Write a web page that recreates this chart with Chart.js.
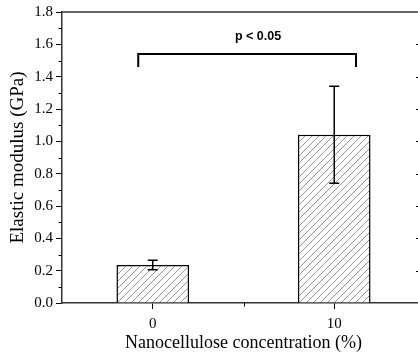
<!DOCTYPE html>
<html>
<head>
<meta charset="utf-8">
<script src="https://cdn.jsdelivr.net/npm/chart.js@4.4.0/dist/chart.umd.min.js"></script>
<style>
  html, body { margin: 0; padding: 0; background: #fff; overflow: hidden; }
  #wrap { width: 426px; height: 354px; }
</style>
</head>
<body>
<div id="wrap"><canvas id="chart" width="426" height="354"></canvas></div>
<script>
// data
var categories = ['0', '10'];
var modulus = [0.235, 1.04];
var modulusErr = [0.03, 0.30];
var yTicks = [0, 0.2, 0.4, 0.6, 0.8, 1.0, 1.2, 1.4, 1.6, 1.8];
var yMinorTicks = [0.1, 0.3, 0.5, 0.7, 0.9, 1.1, 1.3, 1.5, 1.7];

// significance bracket (category index / GPa)
var bracketFrom = -0.08;
var bracketTo = 1.12;
var bracketTop = 1.54;
var bracketFoot = 1.46;
var sigLabel = 'p < 0.05';
var sigLabelAt = [0.58, 1.65];

function hatchPattern() {
  var s = 7;
  var c = document.createElement('canvas');
  c.width = s; c.height = s;
  var g = c.getContext('2d');
  g.fillStyle = '#fff';
  g.fillRect(0, 0, s, s);
  g.strokeStyle = '#8a8a8a';
  g.lineWidth = 0.9;
  g.beginPath();
  g.moveTo(0, s); g.lineTo(s, 0);
  g.moveTo(-1, 1); g.lineTo(1, -1);
  g.moveTo(s - 1, s + 1); g.lineTo(s + 1, s - 1);
  g.stroke();
  return g.createPattern(c, 'repeat');
}

// error bars, bracket, extra ticks and the frame
var extras = {
  id: 'extras',
  afterDatasetsDraw: function (chart) {
    var ctx = chart.ctx;
    var x = chart.scales.x, y = chart.scales.y;
    var area = chart.chartArea;
    ctx.save();
    ctx.strokeStyle = '#000';
    ctx.lineWidth = 1.5;

    // error bars
    modulus.forEach(function (v, i) {
      var px = x.getPixelForValue(i);
      var hi = y.getPixelForValue(v + modulusErr[i]);
      var lo = y.getPixelForValue(v - modulusErr[i]);
      ctx.beginPath();
      ctx.moveTo(px, hi); ctx.lineTo(px, lo);
      ctx.moveTo(px - 5, hi); ctx.lineTo(px + 5, hi);
      ctx.moveTo(px - 5, lo); ctx.lineTo(px + 5, lo);
      ctx.stroke();
    });

    // bracket
    var bx1 = x.getPixelForValue(bracketFrom);
    var bx2 = x.getPixelForValue(bracketTo);
    var by = y.getPixelForValue(bracketTop);
    var bf = y.getPixelForValue(bracketFoot);
    ctx.lineWidth = 2;
    ctx.beginPath();
    ctx.moveTo(bx1, bf); ctx.lineTo(bx1, by); ctx.lineTo(bx2, by); ctx.lineTo(bx2, bf);
    ctx.stroke();

    ctx.fillStyle = '#000';
    ctx.font = 'bold 12.5px "Liberation Sans", Arial, sans-serif';
    ctx.textAlign = 'center';
    ctx.textBaseline = 'middle';
    ctx.fillText(sigLabel, x.getPixelForValue(sigLabelAt[0]), y.getPixelForValue(sigLabelAt[1]));

    // frame top line
    ctx.lineWidth = 1.5;
    ctx.strokeStyle = '#333';
    ctx.beginPath();
    ctx.moveTo(area.left, area.top); ctx.lineTo(area.right, area.top);
    ctx.stroke();

    // minor ticks on left axis
    ctx.lineWidth = 1;
    ctx.strokeStyle = '#000';
    ctx.beginPath();
    yMinorTicks.forEach(function (t) {
      var py = Math.round(y.getPixelForValue(t)) + 0.5;
      ctx.moveTo(area.left - 3.5, py); ctx.lineTo(area.left, py);
    });
    // inward ticks on the right side
    yTicks.slice(1, -1).forEach(function (t) {
      var py = Math.round(y.getPixelForValue(t)) + 0.5;
      ctx.moveTo(area.right - 9, py); ctx.lineTo(area.right, py);
    });
    // minor tick between categories
    var mx = Math.round(x.getPixelForValue(0.5)) + 0.5;
    ctx.moveTo(mx, area.bottom); ctx.lineTo(mx, area.bottom + 3.5);
    ctx.stroke();
    ctx.restore();
  }
};

var serif = '"Liberation Serif", "Times New Roman", serif';

new Chart(document.getElementById('chart'), {
  type: 'bar',
  data: {
    labels: categories,
    datasets: [{
      data: modulus,
      backgroundColor: hatchPattern(),
      borderColor: '#000',
      borderWidth: 1.5,
      borderSkipped: 'bottom',
      categoryPercentage: 1,
      barPercentage: 0.4
    }]
  },
  options: {
    responsive: false,
    animation: false,
    layout: { padding: { top: 12, right: 1, left: 0, bottom: 0 } },
    plugins: { legend: { display: false }, tooltip: { enabled: false } },
    scales: {
      x: {
        grid: { offset: false, drawOnChartArea: false, tickLength: 6, color: '#000', lineWidth: 1 },
        border: { color: '#333', width: 1.5 },
        ticks: { color: '#000', font: { family: serif, size: 15 }, padding: 6 },
        title: { display: true, text: 'Nanocellulose concentration (%)', color: '#000',
                 font: { family: serif, size: 18 }, padding: { top: 1, bottom: 0 } },
        afterFit: function (s) { s.height = 51; }
      },
      y: {
        min: 0, max: 1.8,
        grid: { drawOnChartArea: false, tickLength: 6, color: '#000', lineWidth: 1 },
        border: { color: '#333', width: 1.5 },
        ticks: { stepSize: 0.2, color: '#000', font: { family: serif, size: 15 }, padding: 3,
                 callback: function (v) { return v.toFixed(1); } },
        title: { display: true, text: 'Elastic modulus (GPa)', color: '#000',
                 font: { family: serif, size: 19 }, padding: { top: 7, bottom: 0 } },
        afterFit: function (s) { s.width = 62; }
      }
    }
  },
  plugins: [extras]
});
</script>
</body>
</html>
